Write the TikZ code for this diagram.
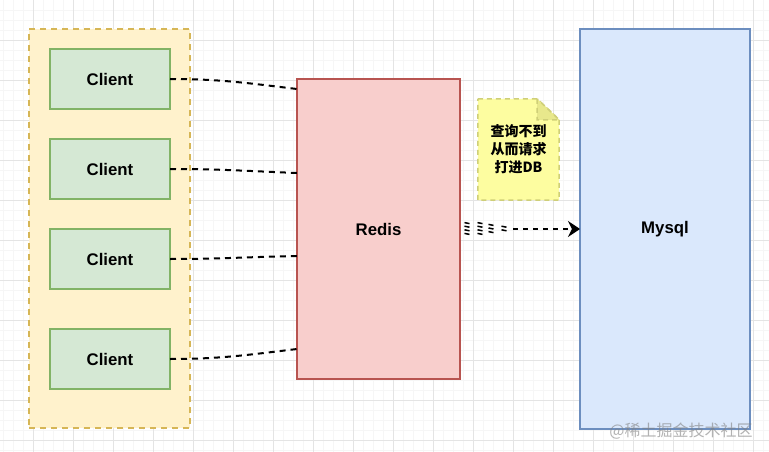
\documentclass[tikz,border=0pt]{standalone}
\usepackage{fontspec}
\setmainfont{Liberation Sans}
\newfontfamily\cjk{Noto Sans CJK SC}
\usepackage{tikz}
\usetikzlibrary{arrows.meta,backgrounds,positioning}
\definecolor{grpfill}{HTML}{FFF2CC}
\definecolor{grpline}{HTML}{D6B656}
\definecolor{cltfill}{HTML}{D5E8D4}
\definecolor{cltline}{HTML}{82B366}
\definecolor{rdsfill}{HTML}{F8CECC}
\definecolor{rdsline}{HTML}{B85450}
\definecolor{sqlfill}{HTML}{DAE8FC}
\definecolor{sqlline}{HTML}{6C8EBF}
\definecolor{notefill}{HTML}{FDFDA0}
\definecolor{noteline}{HTML}{CFCF78}
\definecolor{notefold}{HTML}{E8E88C}
\definecolor{gridminor}{HTML}{F6F6F6}
\definecolor{gridmajor}{HTML}{E4E4E4}
\tikzset{
  box/.style={draw, line width=1.6pt, inner sep=0pt, outer sep=0pt,
    font=\fontsize{16.8}{20}\selectfont\bfseries},
  client/.style={box, fill=cltfill, draw=cltline,
    minimum width=120pt, minimum height=60pt},
  link/.style={line width=2pt, dash pattern=on 6pt off 5pt},
  flow/.style={line width=2.4pt, dash pattern=on 5pt off 5pt,
    -{Stealth[length=12pt,width=16pt,inset=4pt]}},
  tick/.style={line width=1.5pt},
}
\begin{document}
\begin{tikzpicture}[x=1pt, y=-1pt]
  \useasboundingbox (0,0) rectangle (769,452);
  \begin{scope}[on background layer]
    \fill[white] (0,0) rectangle (769,452);
    \foreach \x in {3,13,...,763} \draw[gridminor, line width=0.6pt] (\x,0) -- (\x,452);
    \foreach \y in {10,20,...,450} \draw[gridminor, line width=0.6pt] (0,\y) -- (769,\y);
    \foreach \x in {33,73,...,753} \draw[gridmajor, line width=0.8pt] (\x,0) -- (\x,452);
    \foreach \y in {40,80,...,440} \draw[gridmajor, line width=0.8pt] (0,\y) -- (769,\y);
  \end{scope}

  % clients
  \node[box, fill=grpfill, draw=grpline, dash pattern=on 6pt off 5pt,
    minimum width=161pt, minimum height=399pt] (grp) at (109.5,228.5) {};
  \node[client] (client1) at (110,79) {Client};
  \node[client, below=30pt of client1] (client2) {Client};
  \node[client, below=30pt of client2] (client3) {Client};
  \node[client, below=40pt of client3] (client4) {Client};

  % cache and db
  \node[box, fill=rdsfill, draw=rdsline, minimum width=163pt, minimum height=300pt]
    (redis) at (378.5,229) {Redis};
  \node[box, fill=sqlfill, draw=sqlline, minimum width=170pt, minimum height=400pt]
    (mysql) at (665,229) {Mysql};

  % note
  \node[inner sep=0pt, minimum width=81pt, minimum height=101pt, align=center,
    font=\cjk\bfseries\fontsize{14}{18}\selectfont] (note) at (518.5,149.5)
    {查询不到\\从而请求\\打进DB};
  \begin{scope}[on background layer]
    \filldraw[fill=notefill, draw=noteline, line width=1.5pt, dash pattern=on 5pt off 4pt]
      (note.north west) -- ([xshift=-22pt]note.north east)
      -- ([yshift=-21pt]note.north east) -- (note.south east)
      -- (note.south west) -- cycle;
    \filldraw[fill=notefold, draw=noteline, line width=1.5pt, dash pattern=on 5pt off 4pt]
      ([xshift=-22pt]note.north east) -- ([xshift=-22pt,yshift=-21pt]note.north east)
      -- ([yshift=-21pt]note.north east) -- cycle;
  \end{scope}

  % links
  \draw[link] (client1.east) .. controls +(50,0) and +(-50,-6) .. ([yshift=-10pt]redis.north west);
  \draw[link] (client2.east) .. controls +(50,0) and +(-50,-2) .. ([yshift=56pt]redis.west);
  \draw[link] (client3.east) .. controls +(50,0) and +(-50,1) .. ([yshift=-27pt]redis.west);
  \draw[link] (client4.east) .. controls +(50,0) and +(-50,6) .. ([yshift=-120pt]redis.west);

  \foreach \dx/\n in {7/4,20/4,31/3,44/2}
    \foreach \k in {1,...,\n}
      \draw[tick] ([shift={(\dx-2.5,{(\k-(\n+1)/2)*3.6-1})}]redis.east) -- ++(5,1);
  \draw[flow] ([xshift=53pt]redis.east) -- (mysql.west);

  \node[font=\cjk\fontsize{16}{16}\selectfont, text=gray, opacity=0.6, inner sep=0pt]
    (wm) at (681,431) {@稀土掘金技术社区};
\end{tikzpicture}
\end{document}
